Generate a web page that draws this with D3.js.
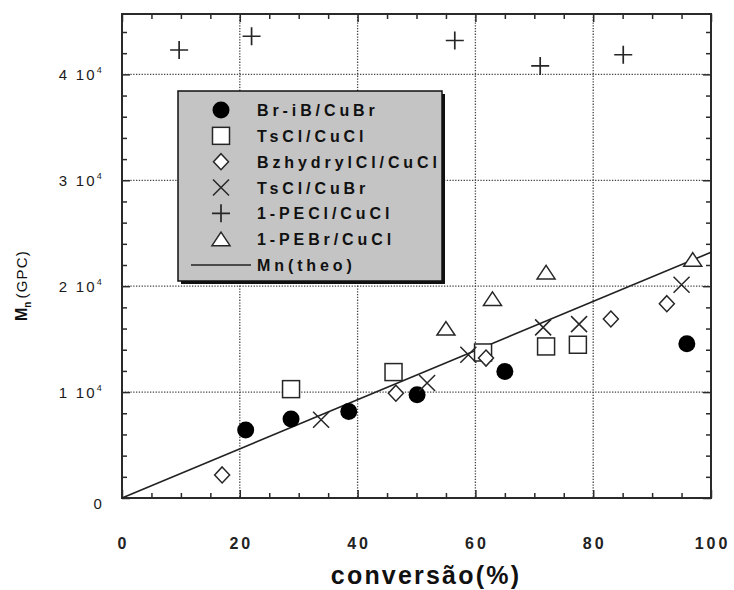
<!DOCTYPE html>
<html>
<head>
<meta charset="utf-8">
<script src="https://cdn.jsdelivr.net/npm/d3@7"></script>
<style>
  body { margin: 0; background: #fff; }
  svg { display: block; }
</style>
</head>
<body>
<script>
// Axis ticks
const conversionTicks = [0, 20, 40, 60, 80, 100];
const conversionMinor = [5, 10, 15, 25, 30, 35, 45, 50, 55, 65, 70, 75, 85, 90, 95];
const mnTicks = [0, 10000, 20000, 30000, 40000];
const mnMinor = [2000, 4000, 6000, 8000, 12000, 14000, 16000, 18000, 22000, 24000, 26000, 28000, 32000, 34000, 36000, 38000, 42000, 44000];

// Series: [conversion %, Mn (GPC)]
const brIBCuBr       = [[21.0, 6430], [28.7, 7470], [38.5, 8160], [50.1, 9740], [65.0, 11950], [95.9, 14560]];
const tsClCuCl       = [[28.7, 10280], [46.1, 11890], [61.3, 13740], [72.0, 14310], [77.4, 14470]];
const bzhydrylClCuCl = [[17.0, 2180], [46.5, 9900], [61.8, 13210], [83.0, 16900], [92.5, 18350]];
const tsClCuBr       = [[33.8, 7380], [51.8, 10850], [58.8, 13520], [71.5, 16110], [77.6, 16420], [95.0, 20140]];
const peClCuCl       = [[9.7, 42300], [22.0, 43600], [56.5, 43200], [71.0, 40800], [85.1, 41850]];
const peBrCuCl       = [[55.0, 16000], [62.9, 18800], [72.0, 21300], [96.9, 22500]];
const mnTheo         = [[0, 0], [100, 23200]];

const seriesNames = ["Br-iB/CuBr", "TsCl/CuCl", "BzhydrylCl/CuCl", "TsCl/CuBr", "1-PECl/CuCl", "1-PEBr/CuCl", "Mn(theo)"];
const seriesShapes = ["circle", "square", "diamond", "x", "plus", "triangle", "line"];
const seriesData = [brIBCuBr, tsClCuCl, bzhydrylClCuCl, tsClCuBr, peClCuCl, peBrCuCl, mnTheo];

const W = 734, H = 590;
const svg = d3.select("body").append("svg").attr("width", W).attr("height", H)
  .style("font-family", "'Liberation Sans', Arial, Helvetica, sans-serif");

const x = d3.scaleLinear().domain([0, 100]).range([122, 711]);
const y = d3.scaleLinear().domain([0, 45700]).range([498, 14]);
const [x0, x1] = x.range();
const [y0, y1] = y.range();
const frame = "#2a2a2a";

// dotted grid
const grid = svg.append("g");
grid.selectAll("line.gx").data(conversionTicks.slice(1, -1)).join("line")
  .attr("x1", d => x(d)).attr("x2", d => x(d)).attr("y1", y1).attr("y2", y0)
  .attr("stroke", "#444").attr("stroke-width", 1.3).attr("stroke-dasharray", "1.3,1.5");
grid.selectAll("line.gy").data(mnTicks.slice(1)).join("line")
  .attr("x1", x0).attr("x2", x1).attr("y1", d => y(d)).attr("y2", d => y(d))
  .attr("stroke", "#444").attr("stroke-width", 1.3).attr("stroke-dasharray", "1.3,1.5");

// inward ticks on all four sides
function tickAxis(axis, vals, size, transform) {
  const g = svg.append("g").attr("transform", transform)
    .call(axis.tickValues(vals).tickSize(size).tickFormat(""));
  g.select(".domain").remove();
  g.selectAll(".tick line").attr("stroke", frame).attr("stroke-width", 1.5);
}
tickAxis(d3.axisBottom(x), conversionMinor, -5, `translate(0,${y0})`);
tickAxis(d3.axisTop(x), conversionMinor, -5, `translate(0,${y1})`);
tickAxis(d3.axisBottom(x), conversionTicks, -8, `translate(0,${y0})`);
tickAxis(d3.axisTop(x), conversionTicks, -8, `translate(0,${y1})`);
tickAxis(d3.axisLeft(y), mnMinor, -5, `translate(${x0},0)`);
tickAxis(d3.axisRight(y), mnMinor, -5, `translate(${x1},0)`);
tickAxis(d3.axisLeft(y), mnTicks, -8, `translate(${x0},0)`);
tickAxis(d3.axisRight(y), mnTicks, -8, `translate(${x1},0)`);

// frame
svg.append("rect").attr("x", x0).attr("y", y1).attr("width", x1 - x0).attr("height", y0 - y1)
  .attr("fill", "none").attr("stroke", frame).attr("stroke-width", 2);

// x tick labels
svg.append("g").selectAll("text").data(conversionTicks).join("text")
  .attr("x", d => x(d) + 1.5).attr("y", 549)
  .attr("text-anchor", "middle").attr("font-size", 16).attr("font-weight", "bold")
  .attr("letter-spacing", "3px").attr("fill", "#222").text(d => d);

// y tick labels: "n 10^4"
const yl = svg.append("g").selectAll("text").data(mnTicks).join("text")
  .attr("x", 104).attr("y", d => y(d) + (d === 0 ? 11 : 6))
  .attr("text-anchor", "end").attr("font-size", 15).attr("letter-spacing", "2.2px")
  .attr("fill", "#1a1a1a");
yl.each(function(d) {
  const t = d3.select(this);
  if (d === 0) { t.text("0"); return; }
  t.append("tspan").text(`${d / 10000} 10`);
  t.append("tspan").attr("font-size", 9).attr("dy", -7).text("4");
});

// axis titles
svg.append("text").attr("x", 426).attr("y", 584).attr("text-anchor", "middle")
  .attr("font-size", 25).attr("font-weight", "bold").attr("letter-spacing", "2.2px")
  .attr("fill", "#111").text("conversão(%)");
const yt = svg.append("text").attr("transform", "translate(27,321) rotate(-90)")
  .attr("fill", "#111");
yt.append("tspan").attr("font-size", 16).attr("font-weight", "bold").text("M");
yt.append("tspan").attr("font-size", 10).attr("font-weight", "bold").attr("dy", 4).text("n");
yt.append("tspan").attr("font-size", 15).attr("dy", -4).attr("dx", 3).attr("letter-spacing", "1.2px").text("(GPC)");

// marker shapes
function drawMarker(g, shape, cx, cy) {
  const s = "#262626";
  if (shape === "circle") {
    g.append("circle").attr("cx", cx).attr("cy", cy).attr("r", 8.5).attr("fill", "#000");
  } else if (shape === "square") {
    g.append("rect").attr("x", cx - 8.5).attr("y", cy - 8.5).attr("width", 17).attr("height", 17)
      .attr("fill", "#fff").attr("stroke", s).attr("stroke-width", 1.5);
  } else if (shape === "diamond") {
    g.append("path").attr("d", `M${cx},${cy - 8}L${cx + 7.5},${cy}L${cx},${cy + 8}L${cx - 7.5},${cy}Z`)
      .attr("fill", "#fff").attr("stroke", s).attr("stroke-width", 1.5);
  } else if (shape === "triangle") {
    g.append("path").attr("d", `M${cx},${cy - 7}L${cx + 9},${cy + 6.5}L${cx - 9},${cy + 6.5}Z`)
      .attr("fill", "#fff").attr("stroke", s).attr("stroke-width", 1.5);
  } else if (shape === "x") {
    g.append("path").attr("d", `M${cx - 8},${cy - 8}L${cx + 8},${cy + 8}M${cx + 8},${cy - 8}L${cx - 8},${cy + 8}`)
      .attr("fill", "none").attr("stroke", s).attr("stroke-width", 1.5);
  } else if (shape === "plus") {
    g.append("path").attr("d", `M${cx - 9},${cy}L${cx + 9},${cy}M${cx},${cy - 9}L${cx},${cy + 9}`)
      .attr("fill", "none").attr("stroke", s).attr("stroke-width", 1.7);
  }
}

// theoretical Mn line
const lineGen = d3.line().x(d => x(d[0])).y(d => y(d[1]));
svg.append("path").datum(mnTheo).attr("d", lineGen)
  .attr("fill", "none").attr("stroke", "#222").attr("stroke-width", 1.6);

// data points
const pts = svg.append("g");
seriesData.forEach((data, i) => {
  if (seriesShapes[i] === "line") return;
  data.forEach(d => drawMarker(pts, seriesShapes[i], x(d[0]), y(d[1])));
});

// legend
const lg = svg.append("g");
lg.append("rect").attr("x", 181).attr("y", 94).attr("width", 264).attr("height", 190).attr("fill", "#111");
lg.append("rect").attr("x", 178).attr("y", 91).attr("width", 264).attr("height", 190)
  .attr("fill", "#c4c4c4").attr("stroke", "#111").attr("stroke-width", 1.5);
const rowY = d3.scalePoint().domain(seriesNames).range([110, 265]);
seriesNames.forEach((name, i) => {
  const cy = rowY(name);
  if (seriesShapes[i] === "line") {
    lg.append("line").attr("x1", 191).attr("x2", 251).attr("y1", cy).attr("y2", cy)
      .attr("stroke", "#222").attr("stroke-width", 1.5);
  } else {
    drawMarker(lg, seriesShapes[i], 221, cy);
  }
  lg.append("text").attr("x", 257).attr("y", cy + 6)
    .attr("font-size", 16).attr("font-weight", "bold").attr("letter-spacing", "3.9px")
    .attr("fill", "#111").text(name);
});
</script>
</body>
</html>
